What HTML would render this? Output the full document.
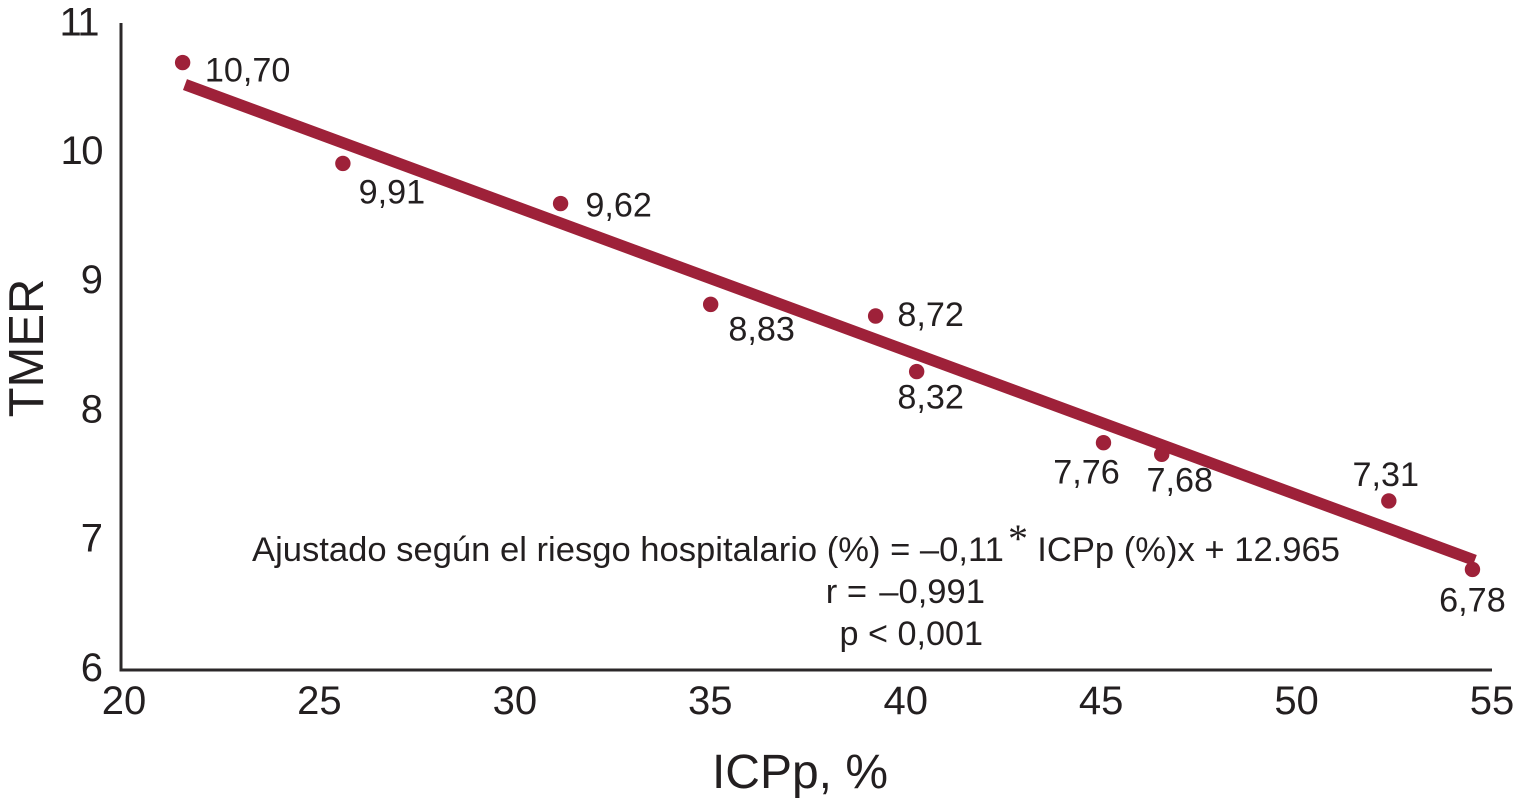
<!DOCTYPE html>
<html lang="es">
<head>
<meta charset="utf-8">
<title>TMER vs ICPp</title>
<style>
html,body{margin:0;padding:0;background:#fff;}
svg{display:block;}
text{font-family:"Liberation Sans",Arial,sans-serif;fill:#231f20;}
</style>
</head>
<body>
<svg id="chart" width="1515" height="803" viewBox="0 0 1515 803" xmlns="http://www.w3.org/2000/svg">
  <g id="annotation" font-size="34.6">
    <text x="252" y="561" font-size="34.6">Ajustado según el riesgo hospitalario (%) = –0,11</text>
    <text x="1018" y="552" font-size="40" text-anchor="middle" style="font-family:'Liberation Serif',serif">*</text>
    <text x="1340" y="561" font-size="34.6" text-anchor="end">ICPp (%)x + 12.965</text>
    <text x="985" y="603" font-size="34.6" text-anchor="end">r =&#160;<tspan dx="2.6">–0,991</tspan></text>
    <text x="983" y="645" font-size="34.2" text-anchor="end">p &lt; 0,001</text>
  </g>
  <text x="43" y="348" font-size="49" text-anchor="middle" transform="rotate(-90 43 348)">TMER</text>
  <text x="800" y="788" font-size="48" text-anchor="middle">ICPp, %</text>
</svg>
<script>
const xTicks = [20, 25, 30, 35, 40, 45, 50, 55];
const yTicks = [6, 7, 8, 9, 10, 11];
const pointX = [21.5, 25.6, 31.17, 35.01, 39.23, 40.28, 45.06, 46.55, 52.36, 54.5];
const pointY = [10.69, 9.91, 9.60, 8.82, 8.73, 8.30, 7.75, 7.66, 7.30, 6.77];
const printedValues = ['10,70', '9,91', '9,62', '8,83', '8,72', '8,32', '7,76', '7,68', '7,31', '6,78'];
const fitX = [21.56, 54.56];
const fitY = [10.52, 6.84];

const labelPlacement = [[65, 19], [49, 40], [58, 13], [51, 36], [55, 10], [14, 37], [-17, 41], [18, 37], [-3, -15], [0, 42]];

const NS = 'http://www.w3.org/2000/svg';
const svg = document.getElementById('chart');
const COLOR = '#9e2139';
const INK = '#2b2829';

function xPos(v) { return 124 + (v - 20) * (1492 - 124) / 35; }
function yPos(v) { return 669 - (v - 6) * 129.3; }

function make(tag, attrs, text) {
  const el = document.createElementNS(NS, tag);
  for (const k in attrs) el.setAttribute(k, attrs[k]);
  if (text !== undefined) el.textContent = text;
  svg.appendChild(el);
  return el;
}

const yAxis = make('line', { x1: 121, x2: 121, y1: 23, y2: 671.5, stroke: INK, 'stroke-width': 3 });



const xAxis = make('line', { x1: 119.5, x2: 1492, y1: 670, y2: 670, stroke: INK, 'stroke-width': 3 });



yTicks.forEach(function (t) {
  const el = make('text', { x: 103, y: yPos(t) + 12, 'font-size': 40, 'text-anchor': 'end' }, String(t));
  
  
  if (t === 10) {
    el.setAttribute('letter-spacing', '-1.5');
    el.setAttribute('x', 102);
  }
  if (t === 11) {
    el.setAttribute('letter-spacing', '-1.5');
    el.setAttribute('x', 98);
    el.setAttribute('y', yPos(t) + 13);
  }
});

xTicks.forEach(function (t) {
  const el = make('text', { x: xPos(t), y: 714, 'font-size': 40, 'text-anchor': 'middle' }, String(t));
  
  
});

const fit = make('line', { x1: xPos(fitX[0]), y1: yPos(fitY[0]), x2: xPos(fitX[1]), y2: yPos(fitY[1]), stroke: COLOR, 'stroke-width': 11.5 });



pointX.forEach(function (x, i) {
  const dot = make('circle', { cx: xPos(x), cy: yPos(pointY[i]), r: 7.7, fill: COLOR });
  
  

  const place = labelPlacement[i];
  const label = make('text', { x: xPos(x) + place[0], y: yPos(pointY[i]) + place[1], 'font-size': 34.2, 'text-anchor': 'middle' }, printedValues[i]);
  
  
});
</script>
</body>
</html>
